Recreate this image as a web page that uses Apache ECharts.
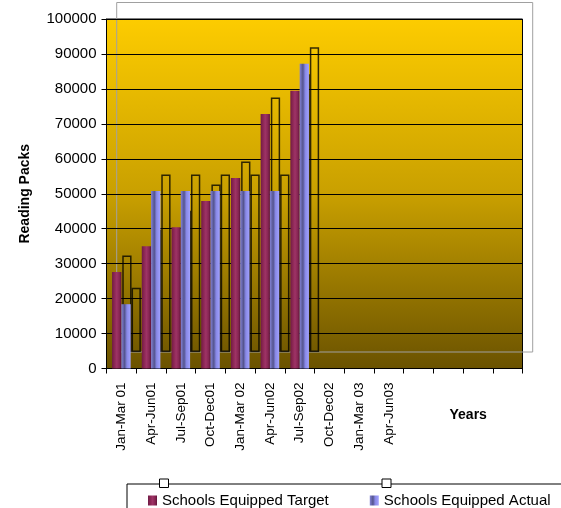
<!DOCTYPE html>
<html>
<head>
<meta charset="utf-8">
<script src="https://cdn.jsdelivr.net/npm/echarts@6/dist/echarts.min.js"></script>
<style>
  html, body { margin: 0; padding: 0; background: #fff; }
  #chart { width: 561px; height: 508px; }
</style>
</head>
<body>
<div id="chart"></div>
<script>
// Quarterly periods on the category axis (the last four slots are left blank)
var categories = ['Jan-Mar 01', 'Apr-Jun01', 'Jul-Sep01', 'Oct-Dec01', 'Jan-Mar 02',
  'Apr-Jun02', 'Jul-Sep02', 'Oct-Dec02', 'Jan-Mar 03', 'Apr-Jun03', '', '', '', ''];

// Reading packs, schools equipped
var targetValues = [27600, 35000, 40400, 47900, 54500, 72800, 79500, null, null, null, null, null, null, null];
var actualValues = [18400, 50800, 50800, 50800, 50800, 50800, 87200, null, null, null, null, null, null, null];

var seriesNames = ['Schools Equipped Target', 'Schools Equipped Actual'];
var yTicks = { min: 0, max: 100000, interval: 10000 };

var FONT = '"Liberation Sans", Arial, sans-serif';
var G = echarts.graphic;

var wallFill = new G.LinearGradient(0, 0, 0, 1, [
  { offset: 0, color: '#fdcc00' },
  { offset: 0.5, color: '#c9a000' },
  { offset: 1, color: '#6a5200' }
]);
var targetFill = new G.LinearGradient(0, 0, 1, 0, [
  { offset: 0, color: '#6e1a46' },
  { offset: 0.2, color: '#86244f' },
  { offset: 0.5, color: '#9e3366' },
  { offset: 0.8, color: '#862552' },
  { offset: 1, color: '#5e1238' }
]);
var actualFill = new G.LinearGradient(0, 0, 1, 0, [
  { offset: 0, color: '#8282d4' },
  { offset: 0.35, color: '#54548e' },
  { offset: 0.6, color: '#8888e6' },
  { offset: 1, color: '#a2a2ff' }
]);

var BAR_W = 9.3;
var backEdge = { color: 'transparent', borderColor: 'rgba(0,0,0,0.78)', borderWidth: 1.5 };

var chart = echarts.init(document.getElementById('chart'), null, { renderer: 'canvas' });

chart.setOption({
  backgroundColor: '#ffffff',
  animation: false,
  grid: [
    { // front plot area
      left: 106.5, top: 19, width: 416, height: 349.5,
      show: true, backgroundColor: wallFill, borderColor: '#000', borderWidth: 1, z: 0
    },
    { // rear frame of the column depth
      left: 116.7, top: 2.5, width: 416, height: 349.5,
      show: true, backgroundColor: 'transparent', borderColor: '#a0a0a0', borderWidth: 1, z: 1
    }
  ],
  xAxis: [
    {
      type: 'category', gridIndex: 0, data: categories, boundaryGap: true, z: 2,
      name: 'Years', nameLocation: 'end', nameGap: -73,
      nameTextStyle: { fontFamily: FONT, fontSize: 14, fontWeight: 'bold', color: '#000',
        align: 'left', verticalAlign: 'top', padding: [40, 0, 0, 0] },
      axisLine: { show: true, lineStyle: { color: '#000', width: 1 } },
      axisTick: { show: true, length: 5, lineStyle: { color: '#000' }, alignWithLabel: false },
      axisLabel: { interval: 0, rotate: 90, margin: 14, fontFamily: FONT, fontSize: 13.5, color: '#000' },
      splitLine: { show: false }
    },
    {
      type: 'category', gridIndex: 1, data: categories, boundaryGap: true, show: false
    }
  ],
  yAxis: [
    {
      type: 'value', gridIndex: 0, min: yTicks.min, max: yTicks.max, interval: yTicks.interval, z: 2,
      name: 'Reading Packs', nameLocation: 'middle', nameGap: 74, nameRotate: 90,
      nameTextStyle: { fontFamily: FONT, fontSize: 14, fontWeight: 'bold', color: '#000' },
      axisLine: { show: true, lineStyle: { color: '#000', width: 1 } },
      axisTick: { show: true, length: 5, lineStyle: { color: '#000' } },
      axisLabel: { margin: 10, fontFamily: FONT, fontSize: 15, color: '#000',
        formatter: function (v) { return String(v); } },
      splitLine: { show: true, lineStyle: { color: '#000', width: 1 } }
    },
    {
      type: 'value', gridIndex: 1, min: yTicks.min, max: yTicks.max, interval: yTicks.interval, show: false
    }
  ],
  legend: {
    data: seriesNames,
    orient: 'horizontal',
    left: 127, top: 484, width: 480,
    icon: 'rect', itemWidth: 9, itemHeight: 10, itemGap: 41,
    padding: [9, 60, 30, 21],
    borderColor: '#000', borderWidth: 1,
    textStyle: { fontFamily: FONT, fontSize: 15, color: '#000' }
  },
  series: [
    { // rear outlines of the columns
      name: 'Target rear', type: 'bar', xAxisIndex: 1, yAxisIndex: 1, data: targetValues,
      barWidth: BAR_W, barGap: 0, z: 3, itemStyle: backEdge, silent: true
    },
    {
      name: 'Actual rear', type: 'bar', xAxisIndex: 1, yAxisIndex: 1, data: actualValues,
      barWidth: BAR_W, barGap: 0, z: 3, itemStyle: backEdge, silent: true
    },
    { // front faces
      name: seriesNames[0], type: 'bar', xAxisIndex: 0, yAxisIndex: 0, data: targetValues,
      barWidth: BAR_W, barGap: 0, z: 4, itemStyle: { color: targetFill }
    },
    {
      name: seriesNames[1], type: 'bar', xAxisIndex: 0, yAxisIndex: 0, data: actualValues,
      barWidth: BAR_W, barGap: 0, z: 4, itemStyle: { color: actualFill }
    }
  ],
  graphic: [
    // rear outlines of the legend keys
    { type: 'rect', left: 159, top: 478.5, shape: { width: 9, height: 8.5 },
      style: { fill: '#fff', stroke: '#000', lineWidth: 1 }, z: 10 },
    { type: 'rect', left: 381.5, top: 478.5, shape: { width: 9, height: 8.5 },
      style: { fill: '#fff', stroke: '#000', lineWidth: 1 }, z: 10 }
  ]
});
</script>
</body>
</html>
